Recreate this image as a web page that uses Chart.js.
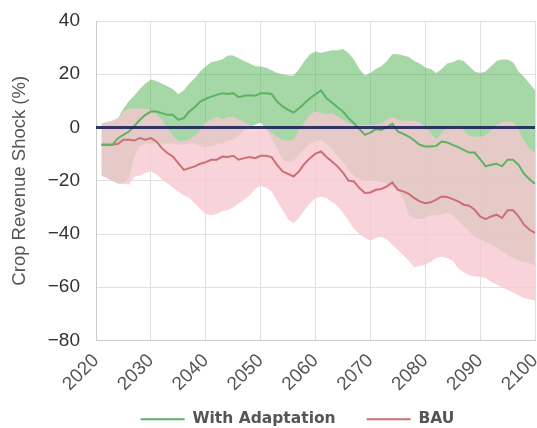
<!DOCTYPE html>
<html>
<head>
<meta charset="utf-8">
<script src="https://cdn.jsdelivr.net/npm/chart.js@4"></script>
<style>
  html, body { margin: 0; padding: 0; background: #fff; }
  #wrap { width: 537px; height: 428px; position: relative; }
</style>
</head>
<body>
<div id="wrap"><canvas id="shockChart"></canvas></div>
<script>
// Years along the x axis (one value per year)
const years = Array.from({ length: 80 }, (_, i) => 2021 + i);

// Median crop revenue shock (%)
const adaptMedian = [
  -6.5, -6.5, -6.5, -4, -2.75, -1.5, 0.6, 2.9, 4.75, 6,
  6, 5.4, 4.75, 4.75, 2.9, 3.5, 6, 7.6, 9.75, 10.8,
  11.6, 12.25, 12.9, 12.6, 12.9, 11.4, 11.9, 12.1, 11.9, 12.9,
  12.9, 12.6, 9.75, 7.9, 6.6, 5.6, 7.25, 9.1, 11, 12.5,
  13.9, 11, 9.4, 7.6, 6, 3.5, 1.6, -0.6, -2.75, -1.9,
  -0.6, -0.9, 0.1, 1.4, -1.5, -2.4, -3.4, -4.9, -6.5, -7.1,
  -7.1, -6.9, -5.25, -5.6, -6.5, -7.4, -8.4, -9.4, -9.4, -11.9,
  -14.6, -14, -13.6, -14.6, -12.1, -12.1, -14, -17.4, -19.4, -21.1
];
const bauMedian = [
  -6.5, -6.5, -6.5, -6.1, -4.6, -4.6, -4.9, -4, -4.6, -4,
  -5.25, -7.75, -9.6, -10.9, -13.4, -15.9, -15.25, -14.6, -13.6, -13,
  -12.1, -12.1, -10.9, -11.1, -10.6, -12.1, -11.5, -11.1, -11.5, -10.6,
  -10.6, -11.1, -14, -16.5, -17.4, -18.4, -16.5, -13.6, -11.5, -9.8,
  -9, -11.1, -12.75, -14.6, -16.9, -19.9, -20.25, -22.75, -24.6, -24.4,
  -23.4, -23.1, -22.1, -20.6, -23.4, -24, -24.9, -26.5, -27.75, -28.4,
  -28.1, -27.1, -25.9, -26.1, -26.9, -27.75, -29, -29.4, -30.9, -33.4,
  -34.4, -33.4, -32.75, -34, -31.1, -31.1, -33.4, -36.5, -38.4, -39.6
];

// Uncertainty range, with adaptation
const adaptUpper = [
  1.5, 2, 2.5, 3.5, 7, 10, 12, 14.5, 16.5, 18,
  17.5, 16.5, 15.5, 14.5, 12.5, 14, 16.5, 18.5, 21, 23,
  24.5, 25, 25.5, 27, 27, 26, 25, 24, 23, 22.9,
  22.5, 21.5, 20.5, 20, 19.5, 19.5, 22, 25, 27.5, 28.5,
  28, 28.5, 29, 29, 29.5, 28, 25.5, 22, 19.5, 20.5,
  22, 23, 25, 27.5, 27.5, 27, 26.5, 25, 24, 22.5,
  22, 20.5, 22, 24, 24.5, 25.5, 25, 23, 21, 20.5,
  21, 23, 25, 25.5, 25.5, 24.5, 21, 19, 16.5, 14
];
const adaptLower = [
  -18, -19, -20, -21, -21, -19, -11, -7, -6, -6,
  -6, -6, -6, -6, -6.5, -6.5, -6, -6, -7, -7.5,
  -7, -6, -6, -5, -4.5, -3, -1, 0, 1, 1.8,
  -0.5, -4, -8, -12, -13, -12.5, -10, -8, -6, -5,
  -5, -6, -8, -10.5, -13, -16, -18, -19.5, -20, -20,
  -20, -20.5, -21, -22, -23, -27, -33, -34, -34.5, -34,
  -33, -33, -32.5, -32, -33, -35, -37, -39, -41, -42,
  -43, -44, -45, -46.5, -48, -49, -50, -50.5, -51, -52
];

// Uncertainty range, business as usual
const bauUpper = [
  1.5, 2, 2.5, 3.5, 6, 7, 7, 7, 7, 6.5,
  5, 3, 0, -3, -5, -5, -4.5, -3, -1, 2,
  3, 4, 3, 4, 4, 3, 2, 1, 0.5, 0.4,
  -0.5, -2, -3.5, -4.5, -5, -4.5, -1, 2, 5, 6,
  5.5, 5, 5.5, 4, 3, 1.6, 1, 1, 1, 1,
  1, 1.5, 3, 4, 3, 2.5, 2.5, 2.5, 2, 0,
  -2, -4.5, -2, 0, 0.5, 0.5, -1, -3, -3.5, -3.5,
  -3, -1, 1, 2, 2.3, 2, -1, -5, -8, -9.5
];
const bauLower = [
  -18, -19, -20, -21, -21, -21.5, -18.5, -18, -17, -16.5,
  -17.5, -19.5, -21, -22.5, -24, -25.5, -26.5, -28.5, -30.5, -32.5,
  -33, -32.5, -31.5, -31, -30, -28.5, -27, -25.5, -23, -22,
  -22.5, -24, -27.5, -31, -34.5, -36, -34, -31, -28.5, -26.5,
  -26, -26.5, -28, -29.5, -32, -35, -38, -40, -41.5, -42.5,
  -41.5, -41, -42, -44, -46, -48, -50, -52.5, -52, -51.5,
  -50.5, -49, -48.5, -49, -50, -53, -54.5, -55.5, -56, -56,
  -56.5, -58, -59, -60, -61, -62, -63, -64, -64.5, -65
];

const yTicks = [-80, -60, -40, -20, 0, 20, 40];
const xTicks = [2020, 2030, 2040, 2050, 2060, 2070, 2080, 2090, 2100];

const pts = vals => years.map((yr, i) => ({ x: yr, y: vals[i] }));

Chart.defaults.font.family = "'Liberation Sans', Arial, sans-serif";

const band = (data, color, order, fill) => ({
  data: pts(data),
  borderColor: 'transparent',
  borderWidth: 0,
  backgroundColor: color,
  pointRadius: 0,
  tension: 0,
  fill: fill,
  order: order
});

// nudge the legend a bit to the right of the canvas centre
const legendShift = {
  id: 'legendShift',
  afterLayout(chart) {
    chart.legend.left += 30;
    chart.legend.right += 30;
  }
};

new Chart(document.getElementById('shockChart'), {
  type: 'line',
  data: {
    datasets: [
      {
        label: 'zero',
        data: [{ x: 2020, y: 0 }, { x: 2100, y: 0 }],
        borderColor: 'rgba(30, 35, 90, 0.9)',
        borderWidth: 3,
        pointRadius: 0,
        order: 0
      },
      {
        label: 'With Adaptation',
        data: pts(adaptMedian),
        borderColor: '#5cb360',
        borderWidth: 2,
        pointRadius: 0,
        tension: 0,
        fill: false,
        order: 1
      },
      {
        label: 'BAU',
        data: pts(bauMedian),
        borderColor: '#cc6f72',
        borderWidth: 2,
        pointRadius: 0,
        tension: 0,
        fill: false,
        order: 2
      },
      band(bauUpper, 'rgba(247, 200, 209, 0.8)', 3, '+1'),
      band(bauLower, 'rgba(247, 200, 209, 0.8)', 3, false),
      band(adaptUpper, 'rgba(76, 175, 80, 0.5)', 4, '+1'),
      band(adaptLower, 'rgba(76, 175, 80, 0.5)', 4, false)
    ]
  },
  plugins: [legendShift],
  options: {
    responsive: true,
    maintainAspectRatio: false,
    animation: false,
    layout: { padding: { top: 21, right: 2, left: 0, bottom: -9 } },
    plugins: {
      tooltip: { enabled: false },
      legend: {
        position: 'bottom',
        labels: {
          filter: item => item.datasetIndex === 1 || item.datasetIndex === 2,
          usePointStyle: true,
          pointStyle: 'line',
          pointStyleWidth: 44,
          color: '#555',
          font: { family: "'DejaVu Sans', sans-serif", size: 15.5, weight: 'bold' },
          padding: 31
        }
      }
    },
    scales: {
      x: {
        type: 'linear',
        min: 2020,
        max: 2100,
        afterBuildTicks: axis => { axis.ticks = xTicks.map(v => ({ value: v })); },
        afterFit: axis => {
          axis.height = 40;
          axis.paddingRight = 0;
          // rotated labels run past the short axis box; don't clip them
          axis._computeLabelArea = () => undefined;
        },
        grid: { color: '#e0e0e0', drawTicks: false },
        border: { color: '#cccccc' },
        ticks: {
          color: '#555',
          font: { size: 19 },
          maxRotation: 45,
          minRotation: 45,
          padding: 9,
          callback: v => String(v)
        }
      },
      y: {
        min: -80,
        max: 40,
        afterBuildTicks: axis => { axis.ticks = yTicks.map(v => ({ value: v })); },
        afterFit: axis => {
          axis.width = 96;
          axis.paddingTop = 0;
          axis.paddingBottom = 0;
        },
        grid: { color: '#e0e0e0', drawTicks: false },
        border: { color: '#cccccc' },
        ticks: {
          color: '#333',
          font: { size: 19 },
          padding: 16,
          callback: v => String(v).replace('-', '\u2212')
        },
        title: {
          display: true,
          text: 'Crop Revenue Shock (%)',
          color: '#555',
          font: { size: 18.5 },
          padding: { top: 9, bottom: 0 }
        }
      }
    }
  }
});
</script>
</body>
</html>
